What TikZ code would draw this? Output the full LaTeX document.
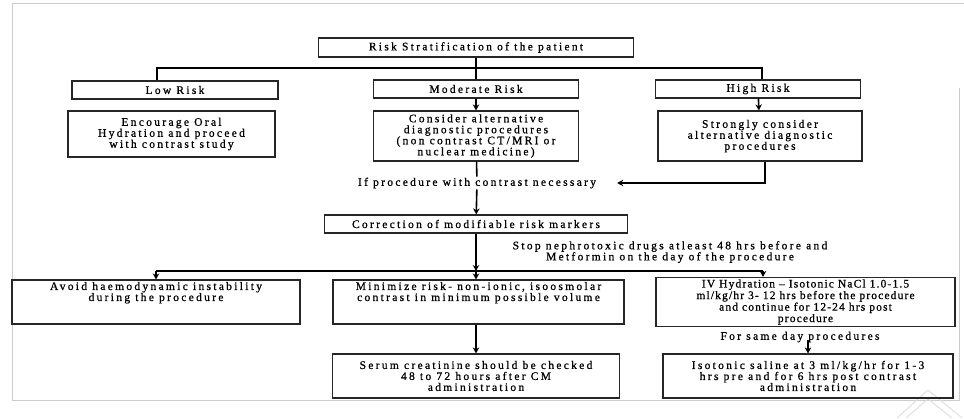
\documentclass[tikz,border=0pt]{standalone}
\usepackage{fontspec}
\setmainfont{Liberation Serif}[LetterSpace=20,FakeBold=0.8]
\usetikzlibrary{arrows.meta}

\begin{document}
\begin{tikzpicture}[x=1pt,y=-1pt,
  box/.style={draw=black!85,line width=1.2pt,inner sep=2pt,align=center,font=\fontsize{11.5}{11}\selectfont},
  lbl/.style={inner sep=1pt,align=center,font=\fontsize{11.5}{11}\selectfont},
  link/.style={line width=1.6pt},
  arr/.style={line width=1.6pt,-{Stealth[length=6pt,width=6.5pt]}}]
\useasboundingbox (0,0) rectangle (964,418);
% frame and watermark
\draw[gray!40,line width=0.8pt] (12,400) -- (12,3) -- (964,3);
\draw[gray!40,line width=0.8pt] (959,88) -- (959,400) -- (12,400);
\draw[gray!25,line width=1pt] (897,418) -- (928,390) -- (962,418);
\draw[gray!25,line width=1pt] (906,418) -- (928,399) -- (952,418);

% risk levels
\node[box,minimum width=315,minimum height=19] (risk) at (476,47.5) {Risk Stratification of the patient};
\node[box,minimum width=206,minimum height=18] (low) at (175,90) {Low Risk};
\node[box,minimum width=205,minimum height=18] (mod) at (476,89) {Moderate Risk};
\node[box,minimum width=205,minimum height=18] (high) at (758,89) {High Risk};
\node[box,minimum width=207,minimum height=46] (lowd) at (171.5,134) {Encourage Oral\\Hydration and proceed\\with contrast study};
\node[box,minimum width=205,minimum height=50] (modd) at (476,136) {Consider alternative\\diagnostic procedures\\(non contrast CT/MRI or\\nuclear medicine)};
\node[box,minimum width=204,minimum height=50] (highd) at (760,136) {Strongly consider\\alternative diagnostic\\procedures};

% contrast path
\node[lbl] (ifproc) at (477,183) {If procedure with contrast necessary};
\node[box,minimum width=303,minimum height=18] (corr) at (476,224) {Correction of modifiable risk markers};
\node[lbl] (stop) at (670,252) {Stop nephrotoxic drugs atleast 48 hrs before and\\Metformin on the day of the procedure};

% measures
\node[box,inner sep=0pt] (avoid) at (156,302) {\parbox[c][44pt][t]{288pt}{\centering\vspace{2pt}Avoid haemodynamic instability\\during the procedure}};
\node[box,inner sep=0pt] (minim) at (478.5,302) {\parbox[c][44pt][t]{291pt}{\centering\vspace{2pt}Minimize risk- non-ionic, isoosmolar\\contrast in minimum possible volume}};
\node[box,minimum width=299,minimum height=44,font=\fontsize{11.5}{10}\selectfont\addfontfeatures{LetterSpace=10}] (iv) at (805.5,302) {IV Hydration -- Isotonic NaCl 1.0-1.5\\ml/kg/hr 3- 12 hrs before the procedure\\and continue for 12-24 hrs post\\procedure};
\node[lbl] (same) at (800,337) {For same day procedures};
\node[box,minimum width=287,minimum height=44] (serum) at (476,376) {Serum creatinine should be checked\\48 to 72 hours after CM\\administration};
\node[box,minimum width=290,minimum height=44] (iso) at (808,376) {Isotonic saline at 3 ml/kg/hr for 1-3\\hrs pre and for 6 hrs post contrast\\administration};

% connectors
\coordinate (split1) at (476,68);
\coordinate (lowend) at (157,68);
\coordinate (highend) at (762,68);
\draw[link] (risk) -- (split1);
\draw[link] (lowend |- low.north) -- (lowend) -- (highend) -- (highend |- high.north);
\draw[link] (split1) -- (mod);
\draw[arr] (mod) -- (modd);
\draw[arr] (high) -- (highd);
\draw[link] (modd) -- (ifproc);
\draw[arr] ([xshift=5pt]highd.south) |- ([xshift=20pt]ifproc.east);
\draw[arr] (ifproc) -- (corr);
\coordinate (split2) at (476,271);
\coordinate (avoidend) at (156,271);
\coordinate (ivend) at (763,271);
\draw[arr] (corr) -- (split2);
\draw[link] (avoidend) -- (ivend);
\draw[arr] (avoidend) -- (avoid);
\draw[arr] (split2) -- (split2 |- minim.north);
\draw[arr] (ivend) -- (ivend |- iv.north);
\draw[arr] (split2 |- minim.south) -- (split2 |- serum.north);
\draw[arr] (iso.north |- same.base) -- (iso.north);
\end{tikzpicture}
\end{document}
